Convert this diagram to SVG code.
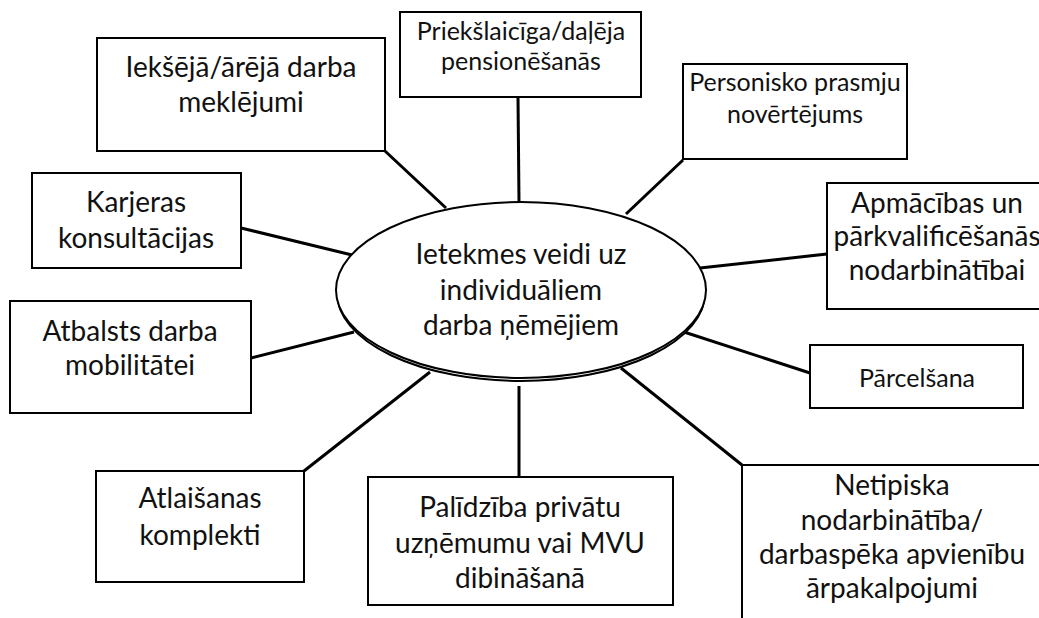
<svg xmlns="http://www.w3.org/2000/svg" width="1039" height="618" viewBox="0 0 1039 618">
  <style>
    .box { fill: #ffffff; stroke: #000000; stroke-width: 2; }
    .link { stroke: #000000; stroke-width: 3; fill: none; }
    .lbl { font-family: Lato, "Liberation Sans", sans-serif; font-size: 28px; fill: #111111; text-anchor: middle; }
    .sm { font-size: 25px; }
  </style>
  <rect width="1039" height="618" fill="#ffffff"/>

  <!-- spokes from the hub to each measure -->
  <g id="connectors">
    <line class="link" x1="518" y1="97" x2="519" y2="202"/>
    <line class="link" x1="683" y1="160" x2="626" y2="214"/>
    <line class="link" x1="827" y1="254" x2="700" y2="268"/>
    <line class="link" x1="810" y1="373" x2="684" y2="332"/>
    <line class="link" x1="742" y1="465" x2="621" y2="368"/>
    <line class="link" x1="519" y1="477" x2="519" y2="386"/>
    <line class="link" x1="304" y1="471" x2="430" y2="372"/>
    <line class="link" x1="251" y1="358" x2="354" y2="332"/>
    <line class="link" x1="241" y1="228" x2="352" y2="255"/>
    <line class="link" x1="385" y1="151" x2="446" y2="208"/>
  </g>

  <!-- central hub -->
  <g id="hub">
    <ellipse cx="521" cy="293" rx="184" ry="88" fill="#ffffff" stroke="#000" stroke-width="2"/>
    <ellipse cx="521" cy="290" rx="185" ry="88" fill="#ffffff" stroke="#000" stroke-width="2"/>
    <text class="lbl" x="521" y="264">Ietekmes veidi uz</text>
    <text class="lbl" x="521" y="300">individuāliem</text>
    <text class="lbl" x="521" y="335">darba ņēmējiem</text>
  </g>

  <g id="n-pension">
    <rect class="box" x="400" y="12" width="241" height="85"/>
    <text class="lbl sm" x="521" y="40">Priekšlaicīga/daļēja</text>
    <text class="lbl sm" x="521" y="70">pensionēšanās</text>
  </g>

  <g id="n-skills">
    <rect class="box" x="683" y="64" width="224" height="95"/>
    <text class="lbl sm" x="795" y="91">Personisko prasmju</text>
    <text class="lbl sm" x="795" y="123">novērtējums</text>
  </g>

  <g id="n-training">
    <rect class="box" x="827" y="183" width="222" height="126"/>
    <text class="lbl" x="937" y="213">Apmācības un</text>
    <text class="lbl" x="937" y="246">pārkvalificēšanās</text>
    <text class="lbl" x="937" y="280">nodarbinātībai</text>
  </g>

  <g id="n-transfer">
    <rect class="box" x="810" y="345" width="213" height="63"/>
    <text class="lbl sm" x="917" y="387">Pārcelšana</text>
  </g>

  <g id="n-atypical">
    <rect class="box" x="742" y="465" width="310" height="170"/>
    <text class="lbl" x="892" y="495">Netipiska</text>
    <text class="lbl" x="892" y="530">nodarbinātība/</text>
    <text class="lbl" x="892" y="564">darbaspēka apvienību</text>
    <text class="lbl" x="892" y="598">ārpakalpojumi</text>
  </g>

  <g id="n-startup">
    <rect class="box" x="368" y="477" width="305" height="128"/>
    <text class="lbl" x="520" y="517">Palīdzība privātu</text>
    <text class="lbl" x="520" y="553">uzņēmumu vai MVU</text>
    <text class="lbl" x="520" y="588">dibināšanā</text>
  </g>

  <g id="n-redundancy">
    <rect class="box" x="96" y="471" width="208" height="111"/>
    <text class="lbl" x="200" y="508">Atlaišanas</text>
    <text class="lbl" x="200" y="545">komplekti</text>
  </g>

  <g id="n-mobility">
    <rect class="box" x="10" y="301" width="241" height="112"/>
    <text class="lbl" x="130" y="341">Atbalsts darba</text>
    <text class="lbl" x="130" y="375">mobilitātei</text>
  </g>

  <g id="n-career">
    <rect class="box" x="32" y="173" width="209" height="95"/>
    <text class="lbl" x="136" y="212">Karjeras</text>
    <text class="lbl" x="136" y="248">konsultācijas</text>
  </g>

  <g id="n-jobsearch">
    <rect class="box" x="97" y="38" width="288" height="113"/>
    <text class="lbl" x="241" y="77">Iekšējā/ārējā darba</text>
    <text class="lbl" x="241" y="112">meklējumi</text>
  </g>
</svg>
